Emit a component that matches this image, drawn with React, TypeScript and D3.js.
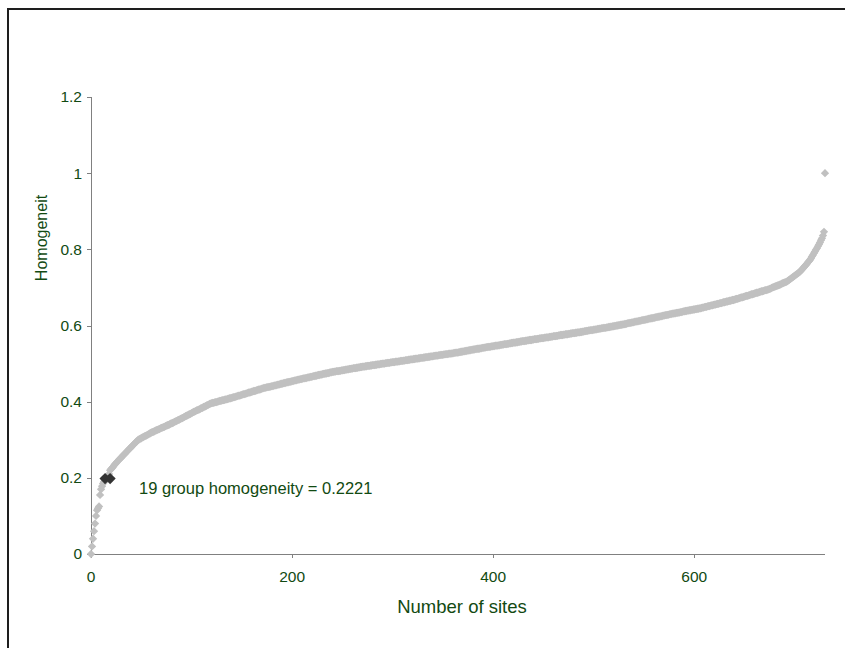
import React from "react";
import * as d3 from "d3";

// Homogeneity value for each site, sorted ascending (index = site number)
const homogeneity: number[] = [
  0.000, 0.020, 0.040, 0.060, 0.080, 0.100, 0.115, 0.120, 0.125, 0.155,
  0.170, 0.178, 0.185, 0.190, 0.193, 0.195, 0.197, 0.200, 0.210, 0.220,
  0.223, 0.226, 0.229, 0.233, 0.236, 0.239, 0.242, 0.245, 0.248, 0.251,
  0.253, 0.256, 0.259, 0.262, 0.264, 0.267, 0.270, 0.273, 0.276, 0.278,
  0.281, 0.284, 0.286, 0.289, 0.292, 0.295, 0.297, 0.300, 0.301, 0.303,
  0.304, 0.306, 0.307, 0.309, 0.310, 0.311, 0.313, 0.314, 0.316, 0.317,
  0.319, 0.320, 0.321, 0.322, 0.324, 0.325, 0.326, 0.327, 0.328, 0.330,
  0.331, 0.332, 0.333, 0.334, 0.336, 0.337, 0.338, 0.339, 0.340, 0.342,
  0.343, 0.344, 0.345, 0.347, 0.348, 0.349, 0.351, 0.352, 0.353, 0.355,
  0.356, 0.357, 0.359, 0.360, 0.362, 0.363, 0.364, 0.366, 0.367, 0.368,
  0.370, 0.371, 0.373, 0.374, 0.375, 0.377, 0.378, 0.379, 0.380, 0.382,
  0.383, 0.384, 0.386, 0.387, 0.388, 0.390, 0.391, 0.392, 0.394, 0.395,
  0.396, 0.397, 0.397, 0.398, 0.399, 0.399, 0.400, 0.401, 0.402, 0.402,
  0.403, 0.404, 0.404, 0.405, 0.406, 0.406, 0.407, 0.408, 0.409, 0.409,
  0.410, 0.411, 0.412, 0.412, 0.413, 0.414, 0.415, 0.416, 0.416, 0.417,
  0.418, 0.419, 0.420, 0.420, 0.421, 0.422, 0.423, 0.424, 0.424, 0.425,
  0.426, 0.427, 0.428, 0.428, 0.429, 0.430, 0.431, 0.432, 0.432, 0.433,
  0.434, 0.435, 0.436, 0.436, 0.437, 0.438, 0.438, 0.439, 0.439, 0.440,
  0.441, 0.441, 0.442, 0.443, 0.443, 0.444, 0.445, 0.445, 0.446, 0.447,
  0.447, 0.448, 0.449, 0.449, 0.450, 0.451, 0.451, 0.452, 0.452, 0.453,
  0.454, 0.454, 0.455, 0.456, 0.456, 0.457, 0.458, 0.458, 0.459, 0.459,
  0.460, 0.461, 0.461, 0.462, 0.462, 0.463, 0.464, 0.464, 0.465, 0.465,
  0.466, 0.467, 0.467, 0.468, 0.468, 0.469, 0.470, 0.470, 0.471, 0.471,
  0.472, 0.473, 0.473, 0.474, 0.474, 0.475, 0.475, 0.476, 0.477, 0.477,
  0.478, 0.478, 0.479, 0.479, 0.480, 0.480, 0.480, 0.481, 0.481, 0.482,
  0.482, 0.483, 0.483, 0.484, 0.484, 0.485, 0.485, 0.486, 0.486, 0.487,
  0.487, 0.488, 0.488, 0.488, 0.489, 0.489, 0.490, 0.490, 0.491, 0.491,
  0.492, 0.492, 0.492, 0.493, 0.493, 0.494, 0.494, 0.494, 0.495, 0.495,
  0.496, 0.496, 0.496, 0.497, 0.497, 0.498, 0.498, 0.498, 0.499, 0.499,
  0.500, 0.500, 0.500, 0.501, 0.501, 0.502, 0.502, 0.502, 0.503, 0.503,
  0.504, 0.504, 0.504, 0.505, 0.505, 0.505, 0.506, 0.506, 0.507, 0.507,
  0.507, 0.508, 0.508, 0.509, 0.509, 0.509, 0.510, 0.510, 0.511, 0.511,
  0.511, 0.512, 0.512, 0.513, 0.513, 0.513, 0.514, 0.514, 0.515, 0.515,
  0.515, 0.516, 0.516, 0.517, 0.517, 0.517, 0.518, 0.518, 0.519, 0.519,
  0.519, 0.520, 0.520, 0.521, 0.521, 0.521, 0.522, 0.522, 0.523, 0.523,
  0.523, 0.524, 0.524, 0.525, 0.525, 0.525, 0.526, 0.526, 0.526, 0.527,
  0.527, 0.528, 0.528, 0.529, 0.529, 0.529, 0.530, 0.530, 0.531, 0.531,
  0.532, 0.532, 0.533, 0.533, 0.534, 0.534, 0.535, 0.535, 0.536, 0.536,
  0.537, 0.537, 0.538, 0.538, 0.539, 0.539, 0.539, 0.540, 0.540, 0.541,
  0.541, 0.542, 0.542, 0.543, 0.543, 0.544, 0.544, 0.544, 0.545, 0.545,
  0.546, 0.546, 0.547, 0.547, 0.547, 0.548, 0.548, 0.549, 0.549, 0.550,
  0.550, 0.551, 0.551, 0.551, 0.552, 0.552, 0.553, 0.553, 0.554, 0.554,
  0.555, 0.555, 0.555, 0.556, 0.556, 0.557, 0.557, 0.558, 0.558, 0.559,
  0.559, 0.559, 0.560, 0.560, 0.561, 0.561, 0.562, 0.562, 0.562, 0.563,
  0.563, 0.564, 0.564, 0.564, 0.565, 0.565, 0.566, 0.566, 0.567, 0.567,
  0.567, 0.568, 0.568, 0.569, 0.569, 0.569, 0.570, 0.570, 0.571, 0.571,
  0.572, 0.572, 0.572, 0.573, 0.573, 0.574, 0.574, 0.575, 0.575, 0.575,
  0.576, 0.576, 0.577, 0.577, 0.577, 0.578, 0.578, 0.579, 0.579, 0.580,
  0.580, 0.580, 0.581, 0.581, 0.582, 0.582, 0.582, 0.583, 0.583, 0.584,
  0.584, 0.585, 0.585, 0.586, 0.586, 0.587, 0.587, 0.588, 0.588, 0.588,
  0.589, 0.589, 0.590, 0.590, 0.591, 0.591, 0.592, 0.592, 0.593, 0.593,
  0.594, 0.594, 0.594, 0.595, 0.595, 0.596, 0.596, 0.597, 0.597, 0.598,
  0.598, 0.599, 0.599, 0.600, 0.600, 0.601, 0.601, 0.602, 0.602, 0.603,
  0.603, 0.604, 0.604, 0.605, 0.606, 0.606, 0.607, 0.607, 0.608, 0.608,
  0.609, 0.610, 0.610, 0.611, 0.611, 0.612, 0.612, 0.613, 0.614, 0.614,
  0.615, 0.615, 0.616, 0.616, 0.617, 0.618, 0.618, 0.619, 0.619, 0.620,
  0.620, 0.621, 0.622, 0.622, 0.623, 0.623, 0.624, 0.624, 0.625, 0.626,
  0.626, 0.627, 0.627, 0.628, 0.628, 0.629, 0.630, 0.630, 0.631, 0.631,
  0.632, 0.632, 0.633, 0.633, 0.634, 0.634, 0.635, 0.635, 0.636, 0.637,
  0.637, 0.638, 0.638, 0.639, 0.639, 0.640, 0.640, 0.641, 0.641, 0.642,
  0.642, 0.643, 0.643, 0.644, 0.644, 0.645, 0.645, 0.646, 0.647, 0.647,
  0.648, 0.649, 0.649, 0.650, 0.651, 0.651, 0.652, 0.653, 0.653, 0.654,
  0.655, 0.655, 0.656, 0.657, 0.657, 0.658, 0.659, 0.659, 0.660, 0.661,
  0.661, 0.662, 0.663, 0.663, 0.664, 0.665, 0.665, 0.666, 0.667, 0.667,
  0.668, 0.669, 0.670, 0.670, 0.671, 0.672, 0.673, 0.674, 0.674, 0.675,
  0.676, 0.677, 0.678, 0.678, 0.679, 0.680, 0.681, 0.682, 0.682, 0.683,
  0.684, 0.685, 0.686, 0.686, 0.687, 0.688, 0.689, 0.690, 0.690, 0.691,
  0.692, 0.693, 0.693, 0.694, 0.695, 0.696, 0.697, 0.699, 0.700, 0.701,
  0.702, 0.703, 0.704, 0.705, 0.706, 0.707, 0.708, 0.710, 0.711, 0.712,
  0.713, 0.714, 0.715, 0.717, 0.719, 0.721, 0.723, 0.725, 0.727, 0.729,
  0.731, 0.733, 0.735, 0.737, 0.739, 0.741, 0.744, 0.747, 0.750, 0.753,
  0.756, 0.759, 0.762, 0.766, 0.769, 0.772, 0.776, 0.781, 0.785, 0.790,
  0.794, 0.799, 0.803, 0.808, 0.813, 0.818, 0.824, 0.829, 0.836, 0.846,
  1.000,
];

// Highlighted group (dark markers)
const highlightSites: number[] = [14, 19];
const highlightValues: number[] = [0.198, 0.198];

const xTicks: number[] = [0, 200, 400, 600];
const yTicks: number[] = [0, 0.2, 0.4, 0.6, 0.8, 1, 1.2];

const xTitle = "Number of sites";
const yTitle = "Homogeneit";
const annotation = "19 group homogeneity = 0.2221";

const FONT = "Arial, 'Liberation Sans', sans-serif";
const TEXT = "#124a12";
const AXIS = "#808080";

export default function App() {
  const left = 91, right = 825, top = 97, bottom = 554;
  const x = d3.scaleLinear().domain([0, 730]).range([left, right]);
  const y = d3.scaleLinear().domain([0, 1.2]).range([bottom, top]);
  const diamond = d3.symbol().type(d3.symbolDiamond2).size(44)();
  const bigDiamond = d3.symbol().type(d3.symbolDiamond2).size(80)();

  return (
    <svg
      width={845}
      height={648}
      style={{ position: "absolute", left: 0, top: 0, background: "#fff" }}
    >
      <rect x={0} y={0} width={845} height={648} fill="#fff" />
      {/* outer frame (left & top visible) */}
      <line x1={8} y1={9} x2={8} y2={648} stroke="#1e1e1e" strokeWidth={2} />
      <line x1={7} y1={9} x2={845} y2={9} stroke="#1e1e1e" strokeWidth={2} />

      {/* axes */}
      <line x1={left + 0.5} y1={top} x2={left + 0.5} y2={bottom} stroke={AXIS} strokeWidth={1} />
      <line x1={left} y1={bottom + 0.5} x2={right} y2={bottom + 0.5} stroke={AXIS} strokeWidth={1} />
      {yTicks.map((t) => (
        <g key={"y" + t}>
          <line x1={left - 4} x2={left} y1={Math.round(y(t)) + 0.5} y2={Math.round(y(t)) + 0.5} stroke={AXIS} />
          <text
            x={left - 9}
            y={y(t)}
            dy="0.35em"
            textAnchor="end"
            fontFamily={FONT}
            fontSize={15.5}
            fill={TEXT}
          >
            {String(t)}
          </text>
        </g>
      ))}
      {xTicks.map((t) => (
        <g key={"x" + t}>
          <line x1={Math.round(x(t)) + 0.5} x2={Math.round(x(t)) + 0.5} y1={bottom} y2={bottom + 4} stroke={AXIS} />
          <text
            x={x(t)}
            y={582}
            textAnchor="middle"
            fontFamily={FONT}
            fontSize={15.5}
            fill={TEXT}
          >
            {String(t)}
          </text>
        </g>
      ))}

      {/* data markers */}
      {homogeneity.map((v, i) => (
        <path key={i} d={diamond} transform={`translate(${x(i)},${y(v)})`} fill="#c0c0c0" />
      ))}
      {highlightSites.map((s, k) => (
        <path
          key={"h" + k}
          d={bigDiamond}
          transform={`translate(${x(s)},${y(highlightValues[k])})`}
          fill="#333333"
        />
      ))}

      {/* annotation */}
      <text x={139} y={494} fontFamily={FONT} fontSize={16.5} fill={TEXT}>
        {annotation}
      </text>

      {/* axis titles */}
      <text
        x={(left + right) / 2 + 4}
        y={613}
        textAnchor="middle"
        fontFamily={FONT}
        fontSize={18.5}
        fill={TEXT}
      >
        {xTitle}
      </text>
      <text
        transform="translate(47,238) rotate(-90)"
        textAnchor="middle"
        fontFamily={FONT}
        fontSize={16}
        fill={TEXT}
      >
        {yTitle}
      </text>
    </svg>
  );
}
